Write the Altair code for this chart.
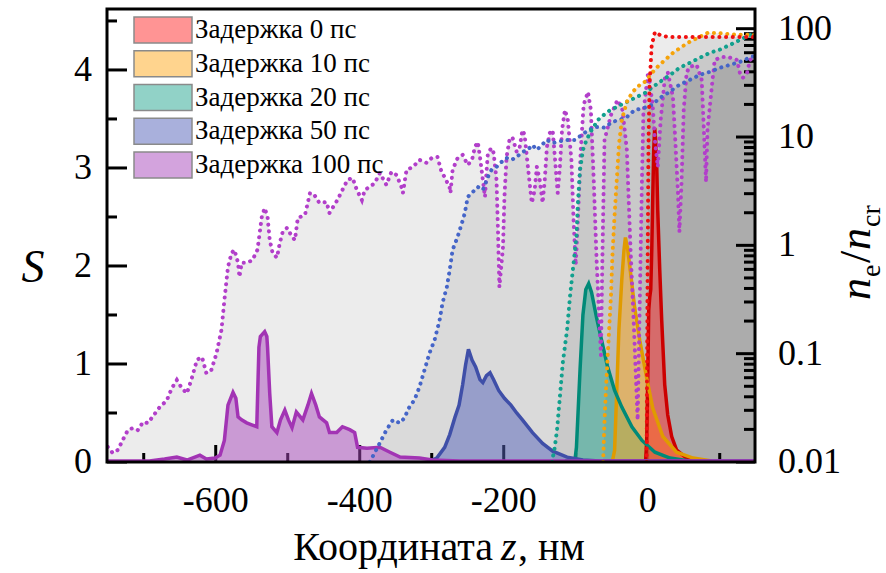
import altair as alt
import pandas as pd

SERIF = "Liberation Serif"
PLOT_W, PLOT_H = 648, 453
Z_DOMAIN = [-751, 149]
S_DOMAIN = [0, 4.622]
N_DOMAIN = [0.01, 152]

labels = ["Задержка 0 пс", "Задержка 10 пс", "Задержка 20 пс", "Задержка 50 пс", "Задержка 100 пс"]
fill_colors = ["#ff2a2a", "#ffaa1e", "#23a58f", "#5361b9", "#a848bc"]
line_colors = ["#cc0000", "#e09b00", "#008a78", "#3f4fa8", "#a234b4"]
dot_colors = ["#f01010", "#f5a30a", "#12a08e", "#4565c8", "#b23fca"]

# ---- S(z) curves (left axis) ----
s0_z = [-3, -1.4, 0, 1.4, 2.8, 4.2, 5.6, 6.9, 8.3, 9.7, 11, 12.5, 13.9, 16.7, 19.4, 23.6, 27.8, 33.3, 40.3, 54, 72]
s0_v = [0.0, 0.22, 0.84, 1.55, 1.68, 1.76, 2.16, 2.67, 3.18, 3.41, 3.29, 3.03, 2.57, 1.96, 1.45, 0.79, 0.48, 0.26, 0.12, 0.04, 0.01]
s10_z = [-49, -46, -43, -40, -36, -33, -31, -28, -24, -18, -11, -1, 7, 21, 40, 63, 89]
s10_v = [0.01, 0.12, 0.73, 1.35, 1.86, 2.16, 2.29, 2.18, 1.94, 1.57, 1.24, 0.84, 0.55, 0.26, 0.10, 0.04, 0.01]
s20_z = [-115, -101, -99, -94, -90, -86, -82, -78, -71, -64, -56, -46, -36, -22, -8, 10, 31, 58]
s20_v = [0.01, 0.02, 0.15, 0.94, 1.50, 1.76, 1.82, 1.73, 1.47, 1.24, 0.98, 0.73, 0.56, 0.36, 0.22, 0.10, 0.04, 0.01]
s50_z = [-303, -293, -282, -275, -268, -262, -257, -253, -249, -244, -239, -233, -229, -224, -219, -214,
         -207, -199, -190, -182, -174, -160, -146, -132, -112, -90, -67, 149]
s50_v = [0.01, 0.04, 0.15, 0.28, 0.45, 0.58, 0.79, 0.99, 1.15, 1.04, 0.97, 0.84, 0.81, 0.88, 0.91, 0.84,
         0.73, 0.65, 0.58, 0.50, 0.43, 0.30, 0.19, 0.11, 0.05, 0.02, 0.01, 0.01]
s100_z = [-751, -692, -671, -654, -640, -629, -622, -613, -601, -594, -588, -583, -576, -572, -569, -564,
          -557, -550, -543, -540, -538, -532, -529, -528, -525, -522, -515, -510, -504, -499, -494, -488,
          -479, -472, -467, -461, -456, -446, -442, -432, -424, -414, -407, -403, -390, -372, -358, -344,
          -317, -299, -261, 149]
s100_v = [0.01, 0.01, 0.03, 0.05, 0.02, 0.05, 0.07, 0.03, 0.04, 0.07, 0.22, 0.58, 0.71, 0.65, 0.46, 0.43,
          0.40, 0.38, 0.36, 1.17, 1.28, 1.33, 1.28, 1.17, 0.70, 0.36, 0.30, 0.43, 0.53, 0.43, 0.35, 0.51,
          0.43, 0.58, 0.70, 0.58, 0.46, 0.40, 0.30, 0.30, 0.36, 0.33, 0.30, 0.15, 0.14, 0.15, 0.10, 0.05,
          0.04, 0.02, 0.01, 0.01]

# ---- electron density n_e/n_cr (right axis, log) ----
n0_z = [-1.5, -1, 0, 1, 2.5, 5.5, 10, 19, 30, 149]
n0_v = [0.01, 0.06, 0.9, 8, 30, 70, 93, 86, 84, 84]
n10_z = [-62, -60, -57, -54, -51, -49, -46, -43, -40, -36, -29, -21, -11, -4, 6, 12, 24, 35, 47, 58, 72,
         83, 96, 110, 124, 142, 149]
n10_v = [0.01, 0.0244, 0.0636, 0.149, 0.348, 0.815, 1.91, 4.02, 8.45, 14.4, 21.1, 26.1, 30.3, 32.3, 39.1,
         43.5, 51.5, 59.8, 67.9, 75.5, 84.0, 91.4, 91.4, 89.6, 87.7, 87.7, 87.7]
n20_z = [-133, -129, -126, -122, -118, -112, -108, -104, -99, -97, -94, -90, -85, -78, -69, -56, -43, -29,
         -15, -4, 7, 17, 31, 44, 58, 72, 86, 100, 114, 128, 142, 149]
n20_v = [0.01, 0.0138, 0.0197, 0.0398, 0.082, 0.166, 0.334, 0.593, 1.20, 2.46, 4.97, 7.6, 9.4, 11.6, 14.4,
         17.1, 19.0, 21.1, 23.5, 25.5, 29.0, 32.3, 37.4, 43.5, 48.3, 53.8, 59.8, 64.1, 70.8, 78.8, 87.7, 92.0]
n50_z = [-386, -372, -363, -354, -344, -338, -331, -324, -317, -310, -303, -296, -289, -285, -279, -275,
         -271, -264, -258, -254, -250, -240, -236, -229, -222, -217, -210, -203, -196, -189, -182, -174,
         -167, -160, -154, -147, -140, -133, -125, -115, -101, -88, -74, -60, -49, -39, -29, -18, -7, 6,
         17, 26, 44, 58, 72, 86, 100, 114, 128, 144, 149]
n50_v = [0.01, 0.015, 0.0197, 0.0244, 0.0229, 0.0255, 0.0322, 0.0374, 0.0493, 0.0707, 0.1015, 0.134,
         0.205, 0.294, 0.413, 0.593, 0.907, 1.20, 1.61, 1.99, 2.80, 3.25, 3.46, 3.25, 4.28, 4.97, 5.30,
         5.89, 6.41, 6.15, 6.55, 7.29, 7.6, 8.45, 7.6, 8.45, 9.4, 8.8, 9.0, 9.4, 9.4, 10.9, 12.4, 12.2,
         13.8, 14.4, 15.3, 17.8, 18.4, 19.8, 23.0, 25.0, 30.3, 33.6, 37.4, 39.9, 43.5, 46.3, 49.4, 54.9, 56.0]
n100_z = [-750, -743, -736, -729, -722, -715, -708, -701, -694, -688, -678, -668, -661, -654, -647, -640,
          -633, -626, -619, -613, -606, -599, -592, -588, -583, -578, -574, -569, -567, -564, -557, -549,
          -542, -536, -532, -528, -525, -521, -515, -511, -507, -501, -494, -490, -486, -476, -469, -463,
          -456, -446, -442, -431, -424, -417, -410, -404, -397, -393, -386, -379, -372, -363, -356, -349,
          -342, -340, -335, -326, -317, -307, -300, -292, -286, -282, -275, -274, -271, -264, -257, -250,
          -244, -240, -236, -233, -229, -226, -224, -222, -217, -214, -210, -208, -206, -201, -199, -196,
          -192, -188, -182, -178, -174, -171, -167, -161, -157, -154, -150, -146, -143, -140, -136, -132,
          -129, -125, -122, -119, -115, -111, -106, -103, -100, -97, -93, -89, -83, -79, -75, -71, -65,
          -63, -60, -51, -42, -35, -29, -24, -19, -14, -11, -8, -6, 0, 3, 7, 10, 14, 18, 24, 28, 35, 39,
          42, 44, 47, 50, 54, 58, 68, 75, 78, 81, 83, 89, 93, 103, 111, 124, 128, 132, 138, 142, 147]
n100_v = [0.0138, 0.0121, 0.0129, 0.016, 0.0197, 0.0206, 0.0197, 0.0234, 0.0229, 0.026, 0.032, 0.037,
          0.048, 0.057, 0.048, 0.043, 0.060, 0.088, 0.093, 0.066, 0.071, 0.10, 0.166, 0.31, 0.63, 0.85,
          0.91, 0.69, 0.51, 0.69, 0.69, 0.73, 0.91, 1.83, 2.21, 1.83, 1.12, 0.85, 0.77, 1.05, 1.33, 1.45,
          1.2, 1.12, 1.79, 1.91, 3.05, 2.92, 2.46, 2.51, 1.99, 2.62, 3.25, 4.02, 4.19, 3.25, 2.62, 3.25,
          3.46, 3.77, 4.66, 3.61, 4.76, 4.47, 3.46, 3.05, 4.97, 5.3, 6.15, 5.77, 6.41, 6.55, 4.66, 4.28,
          3.39, 3.05, 4.97, 6.41, 6.84, 5.52, 6.15, 8.1, 9.0, 6.55, 4.02, 2.80, 4.66, 7.13, 7.93, 7.13,
          4.02, 1.39, 0.413, 0.966, 2.80, 6.55, 9.4, 10.0, 7.29, 7.93, 11.6, 10.5, 5.77, 2.46, 3.25, 5.30,
          4.02, 2.46, 4.02, 8.1, 10.9, 11.6, 6.55, 3.05, 5.30, 11.6, 17.8, 14.4, 6.15, 1.72, 0.66, 1.72,
          7.6, 19.8, 26.1, 17.8, 4.02, 0.733, 0.097, 0.733, 9.4, 16.0, 22.0, 17.8, 7.6, 0.966, 0.166,
          0.0244, 0.313, 4.02, 16.7, 37.4, 31.6, 19.0, 9.4, 5.3, 14.4, 35.9, 39.1, 23.5, 7.6, 3.05, 1.33,
          3.85, 17.8, 39.1, 44.4, 46.3, 33.6, 11.6, 3.85, 11.6, 29.0, 51.5, 54.9, 54.9, 51.5, 39.1, 35.1,
          39.1, 51.5, 53.8]

# ---- tick values and tick labels ----
x_major = [-600, -400, -200, 0]
x_labels = ["-600", "-400", "-200", "0"]
x_minor = [-700, -500, -300, -100, 100]
s_major = [0, 1, 2, 3, 4]
s_labels = ["0", "1", "2", "3", "4"]
s_minor = [0.5, 1.5, 2.5, 3.5, 4.5]
n_major = [0.01, 0.1, 1, 10, 100]
n_labels = ["0.01", "0.1", "1", "10", "100"]
n_minor = [0.02, 0.03, 0.04, 0.05, 0.06, 0.07, 0.08, 0.09, 0.2, 0.3, 0.4, 0.5, 0.6, 0.7, 0.8, 0.9,
           2, 3, 4, 5, 6, 7, 8, 9, 20, 30, 40, 50, 60, 70, 80, 90]

S_series = [(s0_z, s0_v), (s10_z, s10_v), (s20_z, s20_v), (s50_z, s50_v), (s100_z, s100_v)]
N_series = [(n0_z, n0_v), (n10_z, n10_v), (n20_z, n20_v), (n50_z, n50_v), (n100_z, n100_v)]

xs = alt.Scale(domain=Z_DOMAIN, nice=False, zero=False)
ss = alt.Scale(domain=S_DOMAIN, nice=False, zero=False)
ns = alt.Scale(type="log", domain=N_DOMAIN, nice=False)

X = alt.X("z:Q", scale=xs, axis=None)
YS = alt.Y("v:Q", scale=ss, axis=None, stack=None)
YN = alt.Y("v:Q", scale=ns, axis=None, stack=None)


def df(z, v):
    return pd.DataFrame({"z": z, "v": v})


order = [4, 3, 2, 1, 0]

# gray fills under density profiles
gray_layer = alt.layer(*[
    alt.Chart(df(*N_series[i])).mark_area(color="black", opacity=0.075, clip=True).encode(
        x=X, y=YN, y2=alt.datum(0.01))
    for i in order])

# inward ticks
tx_major = alt.Chart(pd.DataFrame({"z": x_major})).mark_rule(color="black", strokeWidth=3).encode(
    x=X, y=alt.value(PLOT_H), y2=alt.value(PLOT_H - 17))
tx_minor = alt.Chart(pd.DataFrame({"z": x_minor})).mark_rule(color="black", strokeWidth=3).encode(
    x=X, y=alt.value(PLOT_H), y2=alt.value(PLOT_H - 9))
ts_major = alt.Chart(pd.DataFrame({"v": s_major})).mark_rule(color="black", strokeWidth=3).encode(
    y=YS, x=alt.value(0), x2=alt.value(20))
ts_minor = alt.Chart(pd.DataFrame({"v": s_minor})).mark_rule(color="black", strokeWidth=3).encode(
    y=YS, x=alt.value(0), x2=alt.value(10))
tn_major = alt.Chart(pd.DataFrame({"v": n_major})).mark_rule(color="black", strokeWidth=3).encode(
    y=YN, x=alt.value(PLOT_W), x2=alt.value(PLOT_W - 19))
tn_minor = alt.Chart(pd.DataFrame({"v": n_minor})).mark_rule(color="black", strokeWidth=3).encode(
    y=YN, x=alt.value(PLOT_W), x2=alt.value(PLOT_W - 11))
ticks_x = alt.layer(tx_major, tx_minor)
ticks_s = alt.layer(ts_major, ts_minor)
ticks_n = alt.layer(tn_major, tn_minor)

# tick labels (drawn through the same scales)
lab_x = alt.Chart(pd.DataFrame({"z": x_major, "t": x_labels})).mark_text(
    font=SERIF, fontSize=36, baseline="middle", align="center", color="black").encode(
    x=X, y=alt.value(PLOT_H + 39), text="t:N")
lab_s = alt.Chart(pd.DataFrame({"v": s_major, "t": s_labels})).mark_text(
    font=SERIF, fontSize=36, baseline="middle", align="right", color="black").encode(
    y=YS, x=alt.value(-15), text="t:N")
lab_n = alt.Chart(pd.DataFrame({"v": n_major, "t": n_labels})).mark_text(
    font=SERIF, fontSize=36, baseline="middle", align="left", color="black").encode(
    y=YN, x=alt.value(PLOT_W + 23), text="t:N")

# S fills and lines
sfill_layer = alt.layer(*[
    alt.Chart(df(*S_series[i])).mark_area(color=fill_colors[i], opacity=0.5, clip=True).encode(x=X, y=YS)
    for i in order])
sline_layer = alt.layer(*[
    alt.Chart(df(*S_series[i])).mark_line(color=line_colors[i], strokeWidth=3.5, clip=True).encode(x=X, y=YS)
    for i in [0, 1, 2, 3, 4]])

# dotted density profiles
dot_layer = alt.layer(*[
    alt.Chart(df(*N_series[i])).mark_line(color=dot_colors[i], strokeWidth=4, strokeDash=[0.1, 6.6],
                                          strokeCap="round", clip=True).encode(x=X, y=YN)
    for i in order])

one = pd.DataFrame({"k": [0]})
frame = alt.Chart(one).mark_rect(fillOpacity=0, stroke="black", strokeWidth=3).encode(
    x=alt.value(0), x2=alt.value(PLOT_W), y=alt.value(0), y2=alt.value(PLOT_H))

# legend
leg_df = pd.DataFrame({"label": labels})
leg_y = alt.Scale(type="point", domain=labels, range=[21, 156], padding=0)
leg_sw = alt.Chart(leg_df).mark_point(shape="M-1,-0.45L1,-0.45L1,0.45L-1,0.45Z", size=3364, filled=True,
                                      opacity=1, fillOpacity=0.5, stroke="#8a8a8a", strokeWidth=1.5,
                                      strokeOpacity=1).encode(
    x=alt.value(56), y=alt.Y("label:N", scale=leg_y, axis=None),
    fill=alt.Fill("label:N", scale=alt.Scale(domain=labels, range=fill_colors), legend=None))
leg_tx = alt.Chart(leg_df).mark_text(align="left", baseline="middle", font=SERIF, fontSize=27,
                                     color="black").encode(
    x=alt.value(88), y=alt.Y("label:N", scale=leg_y, axis=None), text="label:N")


def txt(s, x, y, size, style="normal", angle=0, align="left", baseline="alphabetic"):
    return alt.Chart(one).mark_text(text=s, font=SERIF, fontSize=size, fontStyle=style, angle=angle,
                                    align=align, baseline=baseline, color="black").encode(
        x=alt.value(x), y=alt.value(y))


titles = [
    txt("Координата", 386, 551, 40, align="right"),
    txt("z", 394, 551, 40, style="italic"),
    txt(", нм", 411, 551, 40),
    txt("S", -74, 259, 46, style="italic", align="center", baseline="middle"),
    txt("n", 763, 291, 44, style="italic", angle=270),
    txt("e", 773, 268, 28, angle=270),
    txt("/", 763, 254, 44, angle=270),
    txt("n", 763, 241, 44, style="italic", angle=270),
    txt("cr", 773, 218, 28, angle=270),
]

chart = alt.layer(
    gray_layer, ticks_x, ticks_s, ticks_n, sfill_layer, sline_layer, dot_layer, frame,
    lab_x, lab_s, lab_n, leg_sw, leg_tx, *titles
).resolve_scale(y="independent").properties(
    width=PLOT_W, height=PLOT_H,
    padding={"left": 107, "top": 9, "right": 131, "bottom": 111},
    autosize=alt.AutoSizeParams(type="none"),
    background="white",
).configure_view(stroke="transparent")

chart.save("out.html", embed_options={"renderer": "svg", "actions": False})
